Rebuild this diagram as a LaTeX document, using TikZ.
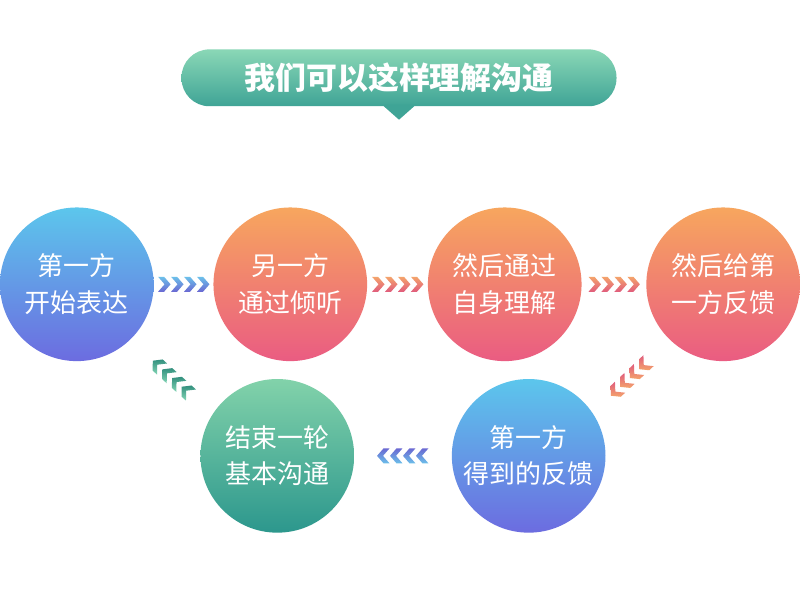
\documentclass[tikz,border=0pt]{standalone}
\usepackage{fontspec}
\setmainfont{Noto Sans CJK SC}
\usetikzlibrary{calc}

\definecolor{bluetop}{HTML}{5CC6EC}
\definecolor{bluebot}{HTML}{6C6CE0}
\definecolor{redtop}{HTML}{F7A65E}
\definecolor{redbot}{HTML}{EA5C82}
\definecolor{greentop}{HTML}{82D2AA}
\definecolor{greenbot}{HTML}{2C978D}
\definecolor{titletop}{HTML}{8AD7B6}
\definecolor{titlebot}{HTML}{3FA496}
\definecolor{chbtop}{HTML}{6CC0EA}
\definecolor{chbbot}{HTML}{6A68D2}
\definecolor{chrtop}{HTML}{F4A46C}
\definecolor{chrbot}{HTML}{E05C7C}
\definecolor{chgtop}{HTML}{84D6B6}
\definecolor{chgbot}{HTML}{33907E}

\begin{document}
\begin{tikzpicture}[x=0.025cm, y=-0.025cm,
    every node/.style={circle, minimum size=3.85cm, inner sep=0pt, text=white, align=center,
        font=\fontsize{18.5}{26}\selectfont},
    blueball/.style={top color=bluetop, bottom color=bluebot},
    redball/.style={top color=redtop, bottom color=redbot},
    greenball/.style={top color=greentop, bottom color=greenbot},
    pics/chevs/.style 2 args={code={
        \foreach \k in {-19.5,-6.5,6.5,19.5}
            \shade[top color=#1, bottom color=#2] (\k-6,-7.5) -- (\k,-7.5) -- (\k+6.5,0)
                -- (\k,7.5) -- (\k-6,7.5) -- (\k+0.5,0) -- cycle;
    }}]
    \path[fill=white] (0,0) rectangle (800,600);

    % title
    \node[rectangle, rounded corners=0.7cm, minimum width=10.9cm, minimum height=1.425cm,
        top color=titletop, bottom color=titlebot, font=\fontsize{22}{26}\selectfont\bfseries]
        (t) at (400,78) {我们可以这样理解沟通};
    \fill[titlebot] ([xshift=-0.43cm, yshift=0.05cm]t.south) -- ([xshift=0.43cm, yshift=0.05cm]t.south)
        -- ([yshift=-0.33cm]t.south) -- cycle;

    % circles
    \node[blueball] (a) at (77,285) {第一方\\开始表达};
    \node[redball] (b) at (291,285) {另一方\\通过倾听};
    \node[redball] (c) at (506,285) {然后通过\\自身理解};
    \node[redball] (d) at (725,285) {然后给第\\一方反馈};
    \node[blueball] (e) at (530,457) {第一方\\得到的反馈};
    \node[greenball] (f) at (278,457) {结束一轮\\基本沟通};

    % chevrons
    \pic at ($(a)!0.5!(b)$) {chevs={chbtop}{chbbot}};
    \pic at ($(b)!0.5!(c)$) {chevs={chrtop}{chrbot}};
    \pic at ($(c)!0.5!(d)$) {chevs={chrtop}{chrbot}};
    \pic[rotate=-137] at ($(d)!0.5!(e)+(4,8)$) {chevs={chrbot}{chrtop}};
    \pic[rotate=180] at ($(e)!0.5!(f)$) {chevs={chbbot}{chbtop}};
    \pic[rotate=138] at ($(f)!0.5!(a)+(-5,8)$) {chevs={chgbot}{chgtop}};
\end{tikzpicture}
\end{document}
